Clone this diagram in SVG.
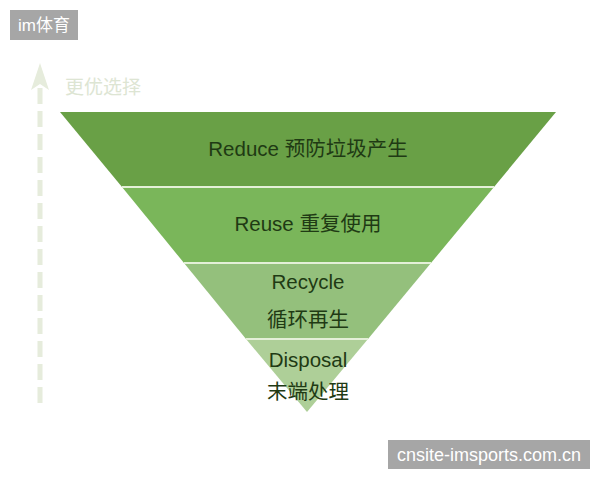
<svg xmlns="http://www.w3.org/2000/svg" width="600" height="480" viewBox="0 0 600 480">
<style>
.lbl{font-family:"Liberation Sans","Noto Sans CJK SC",sans-serif;font-size:20.5px;fill:#1f3a14;text-anchor:middle}
.tag{font-family:"Liberation Sans","Noto Sans CJK SC",sans-serif;fill:#ffffff}
.sep{stroke:#e4f0d8;stroke-width:2}
</style>
<rect width="600" height="480" fill="#ffffff"/>
<g id="arrow">
<line x1="40" y1="88" x2="40" y2="408" stroke="#e6ecdc" stroke-width="5" stroke-dasharray="16 7"/>
<polygon points="40,63 31,90 40,84 49,90" fill="#e6ecdc"/>
<text x="65" y="94" font-family="'Noto Sans CJK SC',sans-serif" font-size="19" fill="#dde5d3">更优选择</text>
</g>
<g id="reduce">
<polygon points="60,112 556,112 494,187 122,187" fill="#69a046"/>
<text class="lbl" x="308" y="156">Reduce 预防垃圾产生</text>
</g>
<g id="reuse">
<polygon points="122,187 494,187 431,263 184,263" fill="#7ab65a"/>
<text class="lbl" x="308" y="231">Reuse 重复使用</text>
</g>
<g id="recycle">
<polygon points="184,263 431,263 368,339 246,339" fill="#94c07c"/>
<text class="lbl" x="308" y="289">Recycle</text>
<text class="lbl" x="308" y="327">循环再生</text>
</g>
<g id="disposal">
<polygon points="246,339 368,339 307,412" fill="#aecf98"/>
<text class="lbl" x="308" y="367">Disposal</text>
<text class="lbl" x="308" y="399">末端处理</text>
</g>
<g id="connectors">
<line class="sep" x1="122" y1="187" x2="494" y2="187"/>
<line class="sep" x1="184" y1="263" x2="431" y2="263"/>
<line class="sep" x1="246" y1="339" x2="368" y2="339"/>
</g>
<g id="tag-top">
<rect x="10" y="10" width="68" height="30" fill="#a6a6a6"/>
<text class="tag" x="18" y="31" font-size="17">im体育</text>
</g>
<g id="tag-bottom">
<rect x="388" y="440" width="202" height="29" fill="#a6a6a6"/>
<text class="tag" x="489" y="461" font-size="18" text-anchor="middle">cnsite-imsports.com.cn</text>
</g>
</svg>
